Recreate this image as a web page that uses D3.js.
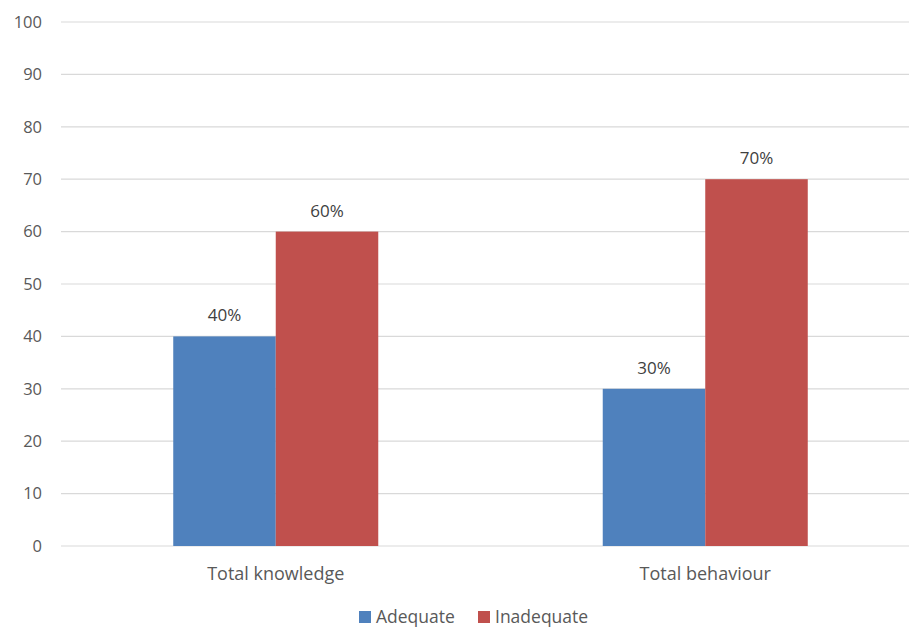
<!DOCTYPE html>
<html><head><meta charset="utf-8">
<script src="https://cdn.jsdelivr.net/npm/d3@7"></script>
<style>body{margin:0;background:#fff}svg{display:block}text{font-family:"Open Sans",sans-serif}</style>
</head><body>
<svg id="c" width="909" height="628"></svg>
<script>
const categories = ["Total knowledge", "Total behaviour"];
const seriesNames = ["Adequate", "Inadequate"];
const adequate = [40, 30];
const inadequate = [60, 70];
const labels = [["40%", "60%"], ["30%", "70%"]];
const yTicks = [0,10,20,30,40,50,60,70,80,90,100];
const colors = ["#4F81BD", "#C0504D"];

(function(){
const svg = d3.select("#c");
const W = 909;
const mLeft = 61, mRight = 920, mTop = 22, mBottom = 546;

const x0 = d3.scaleBand().domain(categories).range([mLeft, mRight]).padding(0);
const x1 = d3.scaleBand().domain(seriesNames).range([0, x0.bandwidth()]).paddingInner(0).paddingOuter(1.095);
const y = d3.scaleLinear().domain([0, 100]).range([mBottom, mTop]);

svg.append("g").selectAll("line").data(yTicks).join("line")
  .attr("x1", mLeft).attr("x2", W)
  .attr("y1", d => y(d)).attr("y2", d => y(d))
  .attr("stroke", "#d9d9d9").attr("stroke-width", 1.2);

const yAxis = d3.axisLeft(y).tickValues(yTicks).tickSize(0).tickPadding(0);
const ya = svg.append("g").attr("transform", "translate(42,0)").call(yAxis);
ya.select(".domain").remove();
ya.selectAll("text").attr("font-size", 16.5).attr("fill", "#595959").attr("font-family", '"Open Sans",sans-serif');

const data = categories.map((c, i) => ({cat: c, vals: [adequate[i], inadequate[i]], labs: labels[i]}));

const g = svg.append("g").selectAll("g").data(data).join("g")
  .attr("transform", d => `translate(${x0(d.cat)},0)`);
g.selectAll("rect").data(d => d.vals.map((v, j) => ({s: seriesNames[j], v, j}))).join("rect")
  .attr("x", d => x1(d.s)).attr("width", x1.bandwidth())
  .attr("y", d => y(d.v)).attr("height", d => y(0) - y(d.v))
  .attr("fill", d => colors[d.j]);
g.selectAll("text").data(d => d.vals.map((v, j) => ({s: seriesNames[j], v, lab: d.labs[j]}))).join("text")
  .attr("x", d => x1(d.s) + x1.bandwidth()/2).attr("y", d => y(d.v) - 15)
  .attr("text-anchor", "middle").attr("font-size", 17).attr("fill", "#404040")
  .text(d => d.lab);

const xAxis = d3.axisBottom(x0).tickSize(0).tickPadding(0);
const xa = svg.append("g").attr("transform", `translate(0,${mBottom})`).call(xAxis);
xa.select(".domain").remove();
xa.selectAll("text").attr("font-size", 18).attr("fill", "#595959").attr("font-family", '"Open Sans",sans-serif')
  .attr("dy", null).attr("y", 34);

const legendX = [359, 478];
const lg = svg.append("g").selectAll("g").data(seriesNames).join("g")
  .attr("transform", (d, i) => `translate(${legendX[i]},611)`);
lg.append("rect").attr("width", 12).attr("height", 12).attr("fill", (d, i) => colors[i]);
lg.append("text").attr("x", 17).attr("y", 11.5).attr("font-size", 17.5).attr("fill", "#595959").text(d => d);
})();
</script>
</body></html>
